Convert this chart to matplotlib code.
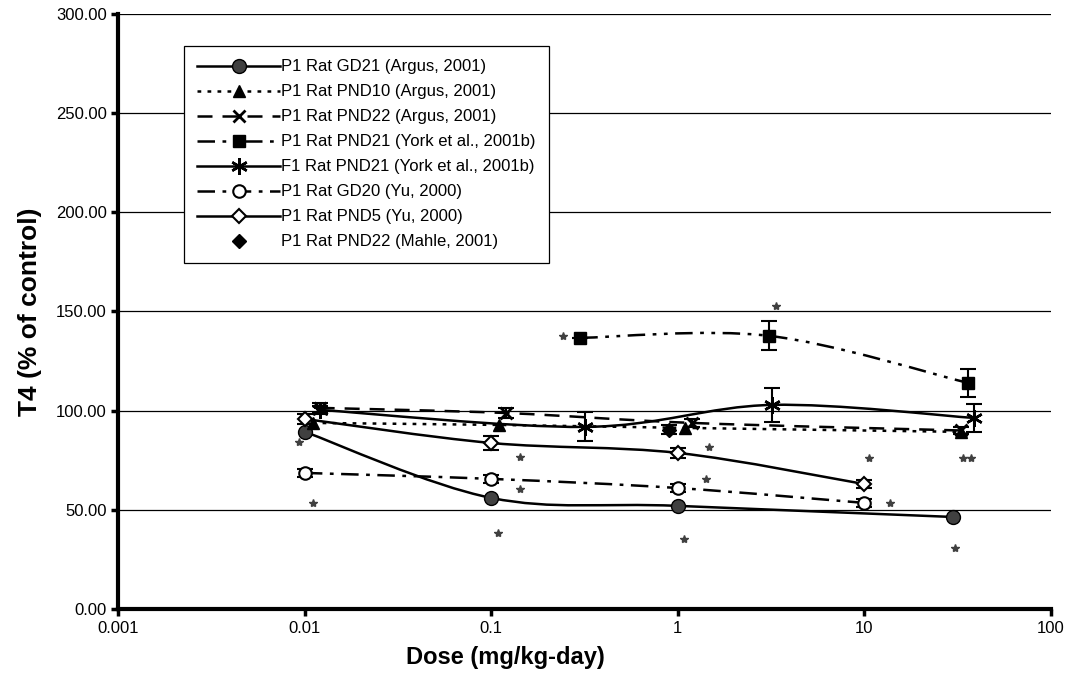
import numpy as np
import matplotlib
matplotlib.use('Agg')
import matplotlib.pyplot as plt
from matplotlib.path import Path
from matplotlib.patches import PathPatch
from matplotlib.lines import Line2D

plt.rcParams['font.family'] = ['Liberation Sans', 'DejaVu Sans']

# data
gd21_dose = [0.01, 0.1, 1, 30]
gd21_t4 = [89.3, 56.0, 52.0, 46.4]

pnd10_dose = [0.011, 0.11, 1.1, 33]
pnd10_t4 = [93.8, 92.8, 91.3, 89.3]

pnd22_dose = [0.012, 0.12, 1.2, 33]
pnd22_t4 = [101.4, 98.8, 93.8, 90.0]
pnd22_err = [2.5, 2.5, 2.0, 2.0]

york_p1_dose = [0.3, 3.1, 36]
york_p1_t4 = [136.7, 137.7, 114.0]
york_p1_err = [0, 7.3, 7.0]

york_f1_dose = [0.012, 0.32, 3.2, 39]
york_f1_t4 = [100.4, 91.8, 102.9, 96.3]
york_f1_err = [2.0, 7.3, 8.6, 7.0]

yu_gd20_dose = [0.01, 0.1, 1, 10]
yu_gd20_t4 = [68.6, 65.6, 61.0, 53.5]
yu_gd20_err = [2.0, 2.0, 2.0, 2.0]

yu_pnd5_dose = [0.01, 0.1, 1, 10]
yu_pnd5_t4 = [95.8, 83.7, 78.7, 63.0]
yu_pnd5_err = [2.5, 3.5, 2.5, 2.0]

mahle_dose = [0.9]
mahle_t4 = [90.3]
mahle_err = [2.3]

star_dose = [0.0093, 0.011, 0.142, 0.142, 0.108, 1.48, 1.41, 1.08,
             10.6, 13.7, 30.6, 33.7, 37.2, 0.242, 3.35]
star_t4 = [84.2, 53.5, 76.7, 60.5, 38.3, 81.7, 65.6, 35.3,
           76.1, 53.5, 30.8, 76.1, 76.1, 137.7, 152.8]

xticks = [0.001, 0.01, 0.1, 1, 10, 100]
xtick_labels = ['0.001', '0.01', '0.1', '1', '10', '100']
yticks = [0, 50, 100, 150, 200, 250, 300]


def smooth_line(ax, xs, ys, **kw):
    # Excel-style smoothed line: cubic Bezier segments through the points
    pts = list(zip(np.log10(xs), ys))
    n = len(pts)
    verts = [pts[0]]
    codes = [Path.MOVETO]
    for i in range(n - 1):
        p0 = pts[max(i - 1, 0)]
        p1 = pts[i]
        p2 = pts[i + 1]
        p3 = pts[min(i + 2, n - 1)]
        c1 = (p1[0] + (p2[0] - p0[0]) / 6, p1[1] + (p2[1] - p0[1]) / 6)
        c2 = (p2[0] - (p3[0] - p1[0]) / 6, p2[1] - (p3[1] - p1[1]) / 6)
        verts += [c1, c2, p2]
        codes += [Path.CURVE4] * 3
    verts = [(10 ** vx, vy) for vx, vy in verts]
    ax.add_patch(PathPatch(Path(verts, codes), fill=False, **kw))


fig = plt.figure(figsize=(10.72, 6.88), dpi=100)
ax = fig.add_axes([0.1105, 0.1148, 0.8695, 0.865])
ax.set_xscale('log')
ax.set_xlim(0.001, 100)
ax.set_ylim(0, 300)

for y in yticks[1:]:
    ax.axhline(y, color='black', lw=0.9, zorder=1)

asterisk = (6, 2, 0)
series = [
    (gd21_dose, gd21_t4, None, '-', dict(marker='o', ms=10, mfc='#404040', mec='black', mew=1),
     'P1 Rat GD21 (Argus, 2001)'),
    (pnd10_dose, pnd10_t4, None, (0, (1.5, 2.5)), dict(marker='^', ms=9, mfc='black', mec='black'),
     'P1 Rat PND10 (Argus, 2001)'),
    (pnd22_dose, pnd22_t4, pnd22_err, (0, (6, 4)), dict(marker='x', ms=9, mfc='black', mec='black', mew=2),
     'P1 Rat PND22 (Argus, 2001)'),
    (york_p1_dose, york_p1_t4, york_p1_err, (0, (7, 3, 1.5, 3, 1.5, 3)),
     dict(marker='s', ms=9, mfc='black', mec='black'),
     'P1 Rat PND21 (York et al., 2001b)'),
    (york_f1_dose, york_f1_t4, york_f1_err, '-', dict(marker=asterisk, ms=12, mfc='black', mec='black', mew=1.8),
     'F1 Rat PND21 (York et al., 2001b)'),
    (yu_gd20_dose, yu_gd20_t4, yu_gd20_err, (0, (7, 3, 1.5, 3)),
     dict(marker='o', ms=9, mfc='white', mec='black', mew=1.5),
     'P1 Rat GD20 (Yu, 2000)'),
    (yu_pnd5_dose, yu_pnd5_t4, yu_pnd5_err, '-', dict(marker='D', ms=7, mfc='white', mec='black', mew=1.5),
     'P1 Rat PND5 (Yu, 2000)'),
    (mahle_dose, mahle_t4, mahle_err, None, dict(marker='D', ms=7, mfc='black', mec='black'),
     'P1 Rat PND22 (Mahle, 2001)'),
]

handles = []
for dose, t4, err, ls, mk, label in series:
    if ls is not None:
        smooth_line(ax, dose, t4, ec='black', lw=1.8, linestyle=ls, zorder=3)
    if err is not None:
        ax.errorbar(dose, t4, yerr=err, fmt='none', ecolor='black', elinewidth=1.5,
                    capsize=6, capthick=1.5, zorder=4)
    ax.plot(dose, t4, linestyle='none', zorder=5, **mk)
    handles.append(Line2D([], [], color='black', lw=1.8,
                          linestyle=ls if ls is not None else 'none', label=label, **mk))

ax.plot(star_dose, star_t4, linestyle='none', marker='*', ms=6, color='#404040', zorder=6)

leg = ax.legend(handles=handles, loc='upper left', bbox_to_anchor=(0.070, 0.946),
                fontsize=12, handlelength=5.0, numpoints=1, labelspacing=0.6,
                handletextpad=0.05, borderpad=0.8, fancybox=False, framealpha=1,
                edgecolor='black', borderaxespad=0)
leg.get_frame().set_linewidth(0.9)

for side in ['top', 'right']:
    ax.spines[side].set_visible(False)
for side in ['left', 'bottom']:
    ax.spines[side].set_linewidth(3)

ax.set_xticks(xticks)
ax.set_xticklabels(xtick_labels)
ax.xaxis.set_minor_locator(matplotlib.ticker.NullLocator())
ax.set_yticks(yticks)
ax.set_yticklabels(['%.2f' % v for v in yticks])
ax.tick_params(axis='both', labelsize=12, width=2.5, length=5, direction='out')

ax.set_xlabel('Dose (mg/kg-day)', fontsize=17, fontweight='bold')
ax.xaxis.set_label_coords(0.415, -0.062)
ax.xaxis.label.set_verticalalignment('top')
ax.set_ylabel('T4 (% of control)', fontsize=19, fontweight='bold', labelpad=10)

fig.savefig('out.png', dpi=100)
